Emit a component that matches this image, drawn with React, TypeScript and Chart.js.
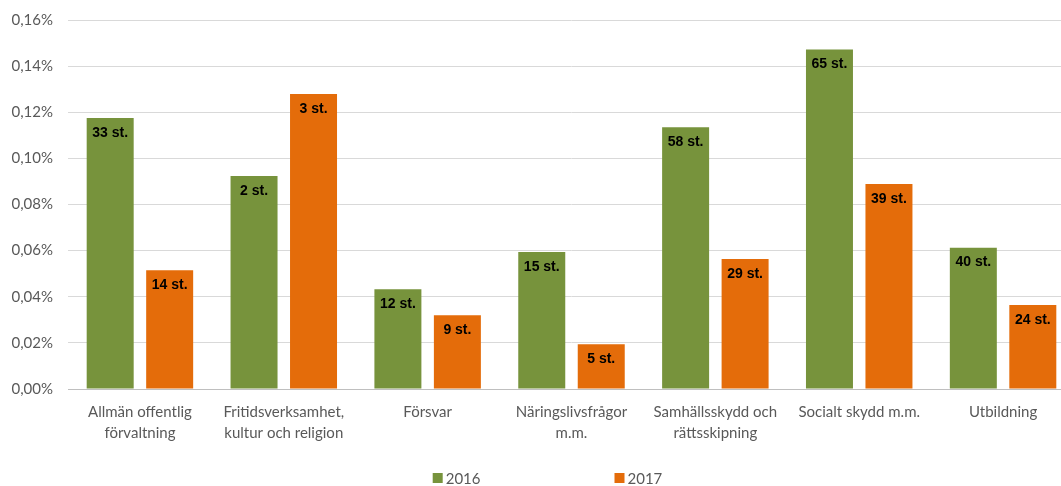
import React, { useEffect, useRef } from "react";
import { Chart, registerables } from "chart.js";
Chart.register(...registerables);

const categories: string[][] = [
  ["Allmän offentlig", "förvaltning"],
  ["Fritidsverksamhet,", "kultur och religion"],
  ["Försvar"],
  ["Näringslivsfrågor", "m.m."],
  ["Samhällsskydd och", "rättsskipning"],
  ["Socialt skydd m.m."],
  ["Utbildning"],
];
const seriesNames = ["2016", "2017"];
const values2016 = [0.1175, 0.0924, 0.0433, 0.0594, 0.1135, 0.1472, 0.0613];
const values2017 = [0.0515, 0.1279, 0.032, 0.0194, 0.0564, 0.0889, 0.0364];
const counts2016 = [33, 2, 12, 15, 58, 65, 40];
const counts2017 = [14, 3, 9, 5, 29, 39, 24];
const yMin = 0;
const yMax = 0.16;
const yStep = 0.02;

const GREEN = "#77933C";
const ORANGE = "#E46C0A";
const AXIS_FONT = "Lato";

export default function App() {
  const ref = useRef<HTMLCanvasElement | null>(null);

  useEffect(() => {
    document.documentElement.style.overflow = "hidden";
    document.body.style.margin = "0";
    const counts = [counts2016, counts2017];

    const labelPlugin = {
      id: "barLabels",
      afterDatasetsDraw(chart: any) {
        const ctx = chart.ctx;
        ctx.save();
        ctx.font = "bold 14px 'Liberation Sans', Arial, sans-serif";
        ctx.fillStyle = "#000000";
        ctx.textAlign = "center";
        ctx.textBaseline = "middle";
        chart.data.datasets.forEach((ds: any, di: number) => {
          const meta = chart.getDatasetMeta(di);
          meta.data.forEach((bar: any, i: number) => {
            ctx.fillText(`${counts[di][i]} st.`, bar.x, bar.y + 15);
          });
        });
        ctx.restore();
      },
    };

    const legendPlugin = {
      id: "customLegend",
      afterDraw(chart: any) {
        const ctx = chart.ctx;
        ctx.save();
        ctx.font = `15px ${AXIS_FONT}, sans-serif`;
        ctx.textBaseline = "middle";
        ctx.textAlign = "left";
        const box = 10;
        const gapText = 3;
        const itemGap = 134;
        const items = chart.data.datasets.map((ds: any) => ({
          text: ds.label,
          color: ds.backgroundColor,
          w: box + gapText + ctx.measureText(ds.label).width,
        }));
        const total = items.reduce((s: number, it: any) => s + it.w, 0) + itemGap * (items.length - 1);
        let x = chart.width / 2 - total / 2;
        const y = 478;
        items.forEach((it: any) => {
          ctx.fillStyle = it.color;
          ctx.fillRect(x, y - box / 2, box, box);
          ctx.fillStyle = "#595959";
          ctx.fillText(it.text, x + box + gapText, y + 1);
          x += it.w + itemGap;
        });
        ctx.restore();
      },
    };

    const chart = new Chart(ref.current as HTMLCanvasElement, {
      type: "bar",
      data: {
        labels: categories,
        datasets: [
          { label: seriesNames[0], data: values2016, backgroundColor: GREEN, borderWidth: 0 },
          { label: seriesNames[1], data: values2017, backgroundColor: ORANGE, borderWidth: 0 },
        ],
      },
      options: {
        animation: false,
        responsive: false,
        maintainAspectRatio: false,
        layout: { padding: { top: 8, right: 20, left: 0, bottom: 0 } },
        datasets: {
          bar: { categoryPercentage: 0.827, barPercentage: 0.79 },
        } as any,
        plugins: {
          legend: { display: false },
          tooltip: { enabled: false },
        },
        scales: {
          x: {
            grid: { display: false, drawTicks: false },
            border: { display: true, color: "#BFBFBF", width: 1 },
            ticks: {
              color: "#595959",
              font: { family: AXIS_FONT, size: 15, lineHeight: 1.4 },
              padding: 13,
              maxRotation: 0,
              autoSkip: false,
            },
            afterFit(scale: any) {
              scale.height = 97;
            },
          },
          y: {
            min: yMin,
            max: yMax,
            grid: {
              color: "#D9D9D9",
              lineWidth: 1,
              drawTicks: true,
              tickLength: 4,
              tickColor: "rgba(0,0,0,0)",
            },
            border: { display: false },
            ticks: {
              stepSize: yStep,
              color: "#595959",
              font: { family: AXIS_FONT, size: 15 },
              padding: 11,
              callback: (v: any) => Number(v).toFixed(2).replace(".", ",") + "%",
            },
            afterFit(scale: any) {
              scale.width = 68;
            },
          },
        },
      },
      plugins: [labelPlugin, legendPlugin],
    });
    return () => chart.destroy();
  }, []);

  return (
    <div style={{ position: "relative", width: 1095, height: 486 }}>
      <canvas ref={ref} width={1095} height={486} style={{ display: "block" }} />
    </div>
  );
}
